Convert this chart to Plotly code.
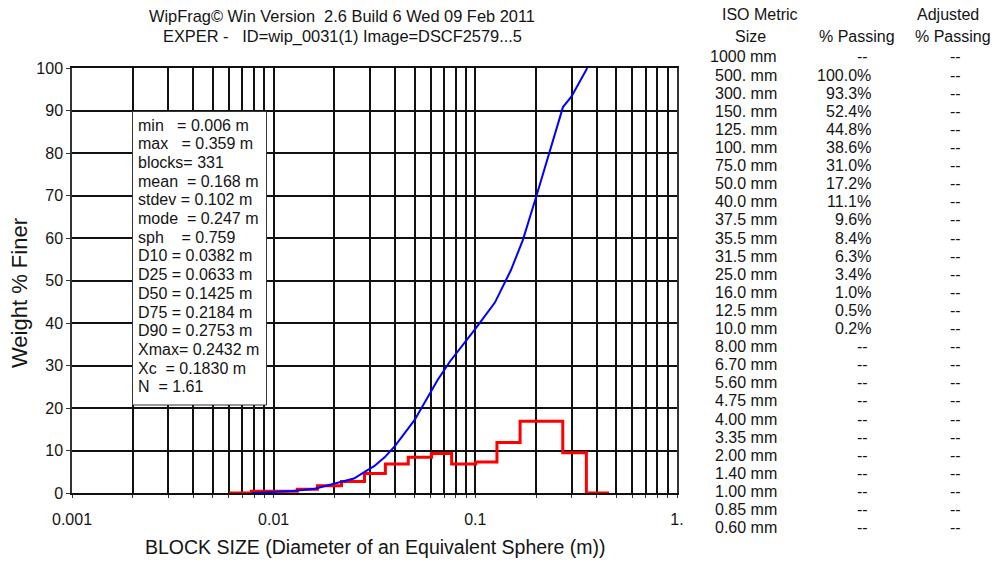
import plotly.graph_objects as go

# ---------------- data ----------------
# cumulative passing curve (size in m, weight % finer)
curve_size = [0.0078, 0.010, 0.0125, 0.016, 0.0214, 0.025, 0.0292, 0.0315, 0.0355,
              0.0375, 0.040, 0.050, 0.065, 0.075, 0.100, 0.125, 0.1416, 0.150,
              0.172, 0.200, 0.272, 0.300, 0.359]
curve_pct = [0.0, 0.2, 0.5, 1.0, 2.6, 3.4, 5.4, 6.3, 8.4,
             9.6, 11.1, 17.2, 26.6, 31.0, 38.6, 44.8, 50.0, 52.4,
             59.5, 69.6, 90.8, 93.3, 100.0]

# size-class histogram (bin edges in m, weight % per bin)
bin_edges = [0.0060, 0.00775, 0.0131, 0.0165, 0.0217, 0.0282, 0.0358, 0.0465,
             0.0607, 0.0763, 0.1005, 0.128, 0.1667, 0.2714, 0.3553, 0.4607]
bin_pct = [0.0, 0.4, 0.9, 1.7, 2.7, 4.6, 6.8, 8.4, 9.3, 6.8, 7.3, 11.9, 16.9, 9.5, 0.0]

# summary statistics
stats_lines = [
    "min   = 0.006 m",
    "max   = 0.359 m",
    "blocks= 331",
    "mean  = 0.168 m",
    "stdev = 0.102 m",
    "mode  = 0.247 m",
    "sph    = 0.759",
    "D10 = 0.0382 m",
    "D25 = 0.0633 m",
    "D50 = 0.1425 m",
    "D75 = 0.2184 m",
    "D90 = 0.2753 m",
    "Xmax= 0.2432 m",
    "Xc  = 0.1830 m",
    "N  = 1.61",
]

# ISO metric sieve table
iso_sizes = ["1000 mm", "500. mm", "300. mm", "150. mm", "125. mm", "100. mm",
             "75.0 mm", "50.0 mm", "40.0 mm", "37.5 mm", "35.5 mm", "31.5 mm",
             "25.0 mm", "16.0 mm", "12.5 mm", "10.0 mm", "8.00 mm", "6.70 mm",
             "5.60 mm", "4.75 mm", "4.00 mm", "3.35 mm", "2.00 mm", "1.40 mm",
             "1.00 mm", "0.85 mm", "0.60 mm"]
iso_passing = [None, 100.0, 93.3, 52.4, 44.8, 38.6, 31.0, 17.2, 11.1, 9.6, 8.4, 6.3,
               3.4, 1.0, 0.5, 0.2, None, None, None, None, None, None, None, None,
               None, None, None]

y_ticks = [0, 10, 20, 30, 40, 50, 60, 70, 80, 90, 100]
x_decades = [0.001, 0.01, 0.1, 1.0]
x_decade_labels = ["0.001", "0.01", "0.1", "1."]

title_lines = ["WipFrag© Win Version  2.6 Build 6 Wed 09 Feb 2011",
               "EXPER -   ID=wip_0031(1) Image=DSCF2579...5"]

# ---------------- layout helpers ----------------
W, H = 997, 562
FONT = "Liberation Sans, Arial, sans-serif"
TXT = "#141414"


def px(x):
    return x / W


def py(y):
    return 1 - y / H


def keep_spaces(s):
    return s.replace(" ", "\u00a0")


# log grid: every 1..9 step within each decade
grid_vals = []
grid_text = []
for d, lab in zip(x_decades[:-1], x_decade_labels[:-1]):
    for k in range(1, 10):
        grid_vals.append(round(d * k, 6))
        grid_text.append(lab if k == 1 else "")
grid_vals.append(x_decades[-1])
grid_text.append(x_decade_labels[-1])

fig = go.Figure()

fig.add_trace(go.Scatter(
    x=bin_edges, y=bin_pct + [bin_pct[-1]], mode="lines",
    line=dict(color="#ff0000", width=3, shape="hv"), hoverinfo="skip"))

fig.add_trace(go.Scatter(
    x=curve_size, y=curve_pct, mode="lines",
    line=dict(color="#0000ff", width=2), hoverinfo="skip"))

annotations = []
shapes = []

# title
for i, t in enumerate(title_lines):
    annotations.append(dict(
        x=px(342), y=py(16 + 20 * i), xref="paper", yref="paper",
        text=keep_spaces(t), showarrow=False, xanchor="center", yanchor="middle",
        font=dict(family=FONT, size=16.4, color=TXT)))

# axis titles
annotations.append(dict(
    x=px(375), y=py(547), xref="paper", yref="paper",
    text="BLOCK SIZE (Diameter of an Equivalent Sphere (m))", showarrow=False,
    xanchor="center", yanchor="middle", font=dict(family=FONT, size=19.5, color=TXT)))
annotations.append(dict(
    x=px(19), y=py(293), xref="paper", yref="paper", textangle=-90,
    text="Weight % Finer", showarrow=False,
    xanchor="center", yanchor="middle", font=dict(family=FONT, size=22, color=TXT)))

# statistics box
shapes.append(dict(type="rect", xref="paper", yref="paper",
                   x0=px(132.5), x1=px(266.5), y0=py(405), y1=py(111.5),
                   fillcolor="white", line=dict(color="#333", width=1), layer="above"))
for i, s in enumerate(stats_lines):
    annotations.append(dict(
        x=px(136), y=py(125 + 18.7 * i), xref="paper", yref="paper",
        text=keep_spaces(s), showarrow=False, xanchor="left", yanchor="middle",
        font=dict(family=FONT, size=16, color=TXT)))

# sieve table
headers = [("ISO Metric", 760, 15), ("Size", 750, 36), ("% Passing", 857, 36),
           ("Adjusted", 948, 15), ("% Passing", 953, 36)]
for t, x, y in headers:
    annotations.append(dict(
        x=px(x), y=py(y), xref="paper", yref="paper", text=t, showarrow=False,
        xanchor="center", yanchor="middle", font=dict(family=FONT, size=16, color=TXT)))

for i, (size, p) in enumerate(zip(iso_sizes, iso_passing)):
    yy = py(57 + 18.1 * i)
    annotations.append(dict(
        x=px(779), y=yy, xref="paper", yref="paper", text=size, showarrow=False,
        xanchor="right", yanchor="middle", font=dict(family=FONT, size=16, color=TXT)))
    if p is None:
        annotations.append(dict(
            x=px(862), y=yy, xref="paper", yref="paper", text="--", showarrow=False,
            xanchor="center", yanchor="middle", font=dict(family=FONT, size=16, color=TXT)))
    else:
        annotations.append(dict(
            x=px(873), y=yy, xref="paper", yref="paper", text=f"{p:.1f}%",
            showarrow=False, xanchor="right", yanchor="middle",
            font=dict(family=FONT, size=16, color=TXT)))
    annotations.append(dict(
        x=px(955), y=yy, xref="paper", yref="paper", text="--", showarrow=False,
        xanchor="center", yanchor="middle", font=dict(family=FONT, size=16, color=TXT)))

fig.update_layout(
    width=W, height=H, margin=dict(l=0, r=0, t=0, b=0, autoexpand=False),
    paper_bgcolor="white", plot_bgcolor="white", showlegend=False,
    annotations=annotations, shapes=shapes,
    xaxis=dict(type="log", range=[-3, 0], domain=[px(72), px(677)], automargin=False,
               tickmode="array", tickvals=grid_vals, ticktext=grid_text,
               showgrid=True, gridcolor="#111111", gridwidth=1.6,
               ticks="outside", ticklen=3, tickcolor="#333", tickwidth=1,
               ticklabelstandoff=8,
               showline=True, linecolor="#111111", linewidth=1.6, mirror=True,
               zeroline=False, tickfont=dict(family=FONT, size=16, color=TXT)),
    yaxis=dict(range=[0, 100], domain=[py(493), py(68)], automargin=False,
               tickmode="array", tickvals=y_ticks,
               showgrid=True, gridcolor="#111111", gridwidth=1.6,
               ticks="outside", ticklen=4, tickcolor="#333", tickwidth=1,
               showline=True, linecolor="#333", linewidth=1.5, mirror=True,
               zeroline=False, tickfont=dict(family=FONT, size=16, color=TXT)),
)

fig.write_html("out.html")
